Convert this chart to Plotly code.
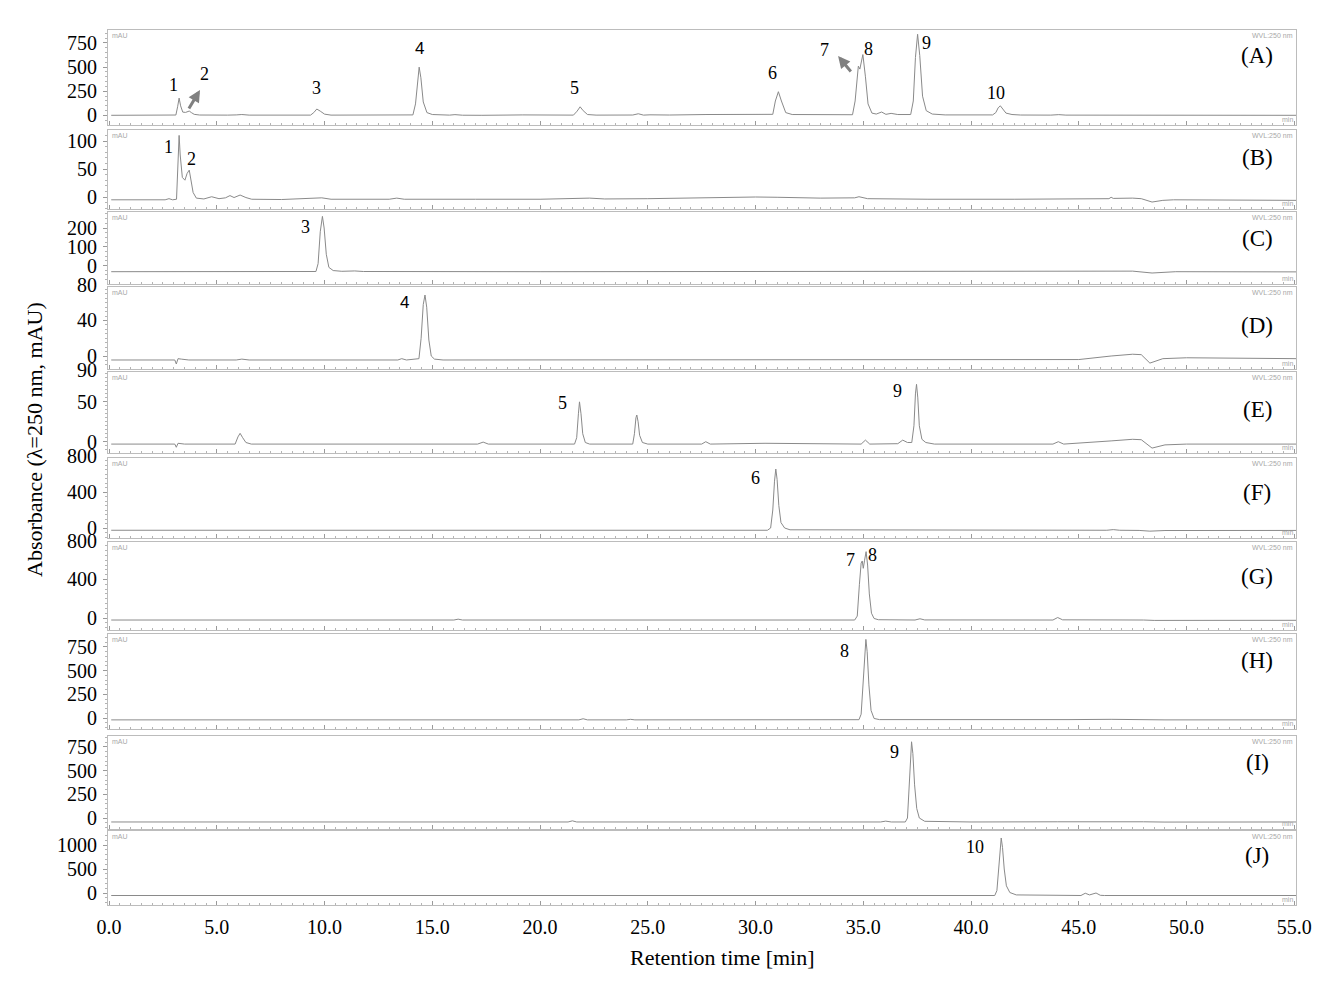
import plotly.graph_objects as go

# ------------------------- DATA -------------------------
panel_names = ["(A)", "(B)", "(C)", "(D)", "(E)", "(F)", "(G)", "(H)", "(I)", "(J)"]

time_A = [0.1, 2.9, 3.1, 3.18, 3.25, 3.32, 3.42, 3.55, 3.65, 3.72, 3.82, 3.95, 4.2, 4.6, 5.5, 5.9, 6.16, 6.5,
          8.0, 9.35, 9.5, 9.64, 9.8, 10.0, 10.3, 12.4, 12.65, 12.9, 14.1, 14.22, 14.32, 14.39, 14.47, 14.58,
          14.75, 15.0, 15.8, 16.05, 16.4, 16.83, 17.3, 19.2, 20.46, 21.55, 21.72, 21.86, 22.0, 22.2, 22.6,
          23.7, 24.3, 24.56, 24.8, 25.1, 26.0, 27.7, 30.0, 30.8, 30.92, 31.06, 31.2, 31.4, 31.7, 33.0, 34.5,
          34.62, 34.72, 34.77, 34.84, 34.98, 35.1, 35.22, 35.4, 35.6, 35.85, 36.05, 36.29, 36.6, 37.2, 37.32,
          37.42, 37.52, 37.62, 37.75, 37.92, 38.2, 38.8, 40.5, 40.76, 41.0, 41.15, 41.26, 41.36, 41.48, 41.62,
          41.9, 42.3, 43.7, 44.07, 44.4, 46.4, 46.76, 47.2, 50.0, 55.1]
abs_A = [2, 2, 5, 90, 180, 100, 35, 32, 42, 46, 30, 12, 5, 3, 4, 6, 10, 4,
         2, 4, 30, 67, 45, 14, 4, 3, 8, 3, 6, 120, 400, 500, 390, 140,
         30, 10, 4, 9, 3, 6, 2, 6, 5, 4, 45, 90, 50, 10, 4,
         7, 5, 18, 4, 7, 5, 10, 10, 12, 150, 246, 150, 30, 10, 8, 8,
         150, 430, 510, 480, 630, 400, 120, 25, 15, 36, 12, 22, 10, 10, 150,
         600, 840, 620, 200, 50, 15, 6, 5, 12, 6, 30, 80, 100, 65, 25,
         10, 5, 4, 9, 4, 3, 7, 2, 2, 2]

time_B = [0.1, 2.6, 2.78, 2.95, 3.13, 3.2, 3.25, 3.3, 3.4, 3.52, 3.62, 3.72, 3.8, 3.9, 4.05, 4.4, 4.76, 5.1,
          5.4, 5.61, 5.8, 6.08, 6.35, 6.62, 8.0, 9.87, 10.3, 13.0, 13.35, 13.7, 17.0, 20.0, 22.3, 23.0, 25.0,
          28.0, 30.0, 31.0, 33.0, 34.6, 34.8, 35.2, 38.0, 42.0, 45.0, 46.4, 46.5, 46.6, 47.5, 47.9, 48.4,
          48.9, 49.4, 52.0, 55.1]
abs_B = [-5, -5, -3, -5, -4, 70, 110, 75, 35, 30, 42, 48, 30, 8, -2, -3.5, 0.5, -3,
         -1.5, 2.5, -1, 3.5, -1, -4, -4.5, -1.5, -4, -4, -2, -4, -4, -4, -2, -3.5, -3,
         -1, 0, -0.5, -2, -1.5, 0.5, -3, -4, -4, -4, -3, -0.5, -2.5, -2, -3, -9,
         -6, -5, -5, -6]

time_C = [0.1, 3.05, 3.14, 3.22, 9.6, 9.7, 9.8, 9.9, 9.98, 10.08, 10.2, 10.4, 10.8, 11.4, 11.8, 20.0, 30.0,
          37.3, 37.6, 38.1, 38.4, 45.0, 46.5, 47.5, 48.4, 49.5, 55.1]
abs_C = [-33, -33, -36, -32, -32, 10, 180, 262, 200, 60, -10, -27, -31, -29, -32, -33, -33,
         -29, -32, -30, -33, -33, -30, -30, -40, -33, -34]

time_D = [0.1, 3.05, 3.12, 3.2, 3.35, 3.7, 5.9, 6.16, 6.5, 13.4, 13.58, 13.8, 14.38, 14.48, 14.58, 14.66,
          14.74, 14.84, 14.95, 15.1, 15.5, 20.0, 30.0, 40.0, 45.0, 46.5, 47.5, 47.9, 48.3, 48.9, 50.0, 55.1]
abs_D = [-4.5, -4.5, -9, -3, -3.5, -4.5, -4.5, -3.5, -4.5, -4.5, -3, -4.5, -3, 20, 58, 68.7,
         55, 18, 0, -3.5, -4.5, -4.5, -4, -4, -4, 0, 2, 1.5, -8, -3, -2, -3]

time_E = [0.1, 3.05, 3.12, 3.2, 3.5, 5.85, 5.98, 6.08, 6.2, 6.35, 6.6, 17.1, 17.36, 17.6, 21.6, 21.7, 21.78,
          21.83, 21.9, 21.98, 22.1, 22.3, 24.3, 24.38, 24.45, 24.49, 24.55, 24.62, 24.75, 25.0, 27.5, 27.69,
          27.9, 30.44, 34.9, 35.1, 35.3, 36.6, 36.83, 37.05, 37.25, 37.35, 37.42, 37.47, 37.53, 37.6, 37.72,
          37.9, 38.3, 43.8, 44.05, 44.3, 46.5, 47.5, 47.9, 48.4, 49.0, 50.0, 55.1]
abs_E = [-3, -3, -7, -2, -3, -3, 6, 10.5, 5, -1, -3, -3, -0.5, -3, -3, 5, 35,
         50, 35, 10, -1, -3, -3, 10, 30, 33.5, 25, 8, -1, -3, -3, 0,
         -3, -2, -3, 2, -3, -2.5, 2, -1, -1, 20, 60, 72, 55, 20, 3,
         -1, -3, -3, 0, -3, 1, 3, 2.5, -8, -4, -3, -3]

time_F = [0.1, 30.55, 30.7, 30.8, 30.88, 30.94, 31.0, 31.08, 31.18, 31.35, 31.6, 40.0, 46.3, 46.6, 46.9,
          47.8, 48.3, 49.0, 55.1]
abs_F = [-25, -25, 0, 200, 520, 655, 540, 250, 60, 0, -20, -25, -25, -18, -25,
         -27, -35, -28, -27]

time_G = [0.1, 15.0, 15.2, 15.4, 16.0, 16.2, 16.4, 34.6, 34.72, 34.82, 34.9, 34.95, 35.0, 35.06, 35.13,
          35.2, 35.28, 35.38, 35.5, 35.7, 37.4, 37.63, 37.85, 43.8, 44.02, 44.25, 46.0, 47.0, 48.0, 48.5, 55.1]
abs_G = [-21, -21, -18, -21, -21, -12, -21, -21, 20, 350, 570, 592, 516, 600, 689,
         550, 250, 50, -5, -18, -21, -8, -20, -21, 5, -19, -17, -16, -21, -25, -24]

time_H = [0.1, 5.8, 6.1, 6.4, 13.6, 13.9, 14.2, 16.0, 16.2, 16.4, 19.4, 19.6, 19.8, 21.8, 22.0, 22.2, 24.0,
          24.2, 24.4, 33.8, 34.0, 34.8, 34.9, 35.0, 35.07, 35.12, 35.18, 35.26, 35.36, 35.5, 35.75, 40.0,
          44.5, 46.5, 48.0, 49.0, 55.1]
abs_H = [-20, -20, -12, -20, -20, -15, -20, -20, -14, -20, -20, -14, -20, -20, -8, -20, -20,
         -14, -20, -20, -15, -18, 40, 400, 720, 830, 700, 350, 80, -5, -17, -19,
         -17, -14, -17, -20, -20]

time_I = [0.1, 21.3, 21.5, 21.7, 35.8, 36.04, 36.3, 36.95, 37.05, 37.12, 37.18, 37.24, 37.3, 37.38, 37.48,
          37.6, 37.85, 40.0, 44.0, 46.0, 48.0, 49.0, 55.1]
abs_I = [-42, -42, -30, -42, -42, -33, -42, -42, 0, 300, 650, 805, 680, 350, 100,
         0, -35, -42, -40, -37, -40, -43, -42]

time_J = [0.1, 3.0, 3.2, 41.1, 41.2, 41.28, 41.34, 41.4, 41.46, 41.54, 41.64, 41.8, 42.1, 45.1, 45.3, 45.5,
          45.8, 46.0, 46.2, 48.0, 55.1]
abs_J = [-52, -52, -48, -52, 50, 500, 950, 1146, 950, 500, 150, 10, -40, -52, -5, -40,
         0, -48, -52, -52, -52]

# y tick labels of each panel (mAU)
yticks_A = [0, 250, 500, 750]
yticks_B = [0, 50, 100]
yticks_C = [0, 100, 200]
yticks_D = [0, 40, 80]
yticks_E = [0, 50, 90]
yticks_F = [0, 400, 800]
yticks_G = [0, 400, 800]
yticks_H = [0, 250, 500, 750]
yticks_I = [0, 250, 500, 750]
yticks_J = [0, 500, 1000]

# x tick labels (min)
xtick_vals = [0, 5, 10, 15, 20, 25, 30, 35, 40, 45, 50, 55]
xtick_text = ["0.0", "5.0", "10.0", "15.0", "20.0", "25.0", "30.0", "35.0", "40.0", "45.0", "50.0", "55.0"]

# peak labels: (text, retention time, mAU)
peaks_A = [("1", 2.97, 315), ("2", 4.41, 429), ("3", 9.61, 284), ("4", 14.39, 688), ("5", 21.62, 284),
           ("6", 30.77, 440), ("7", 33.18, 677), ("8", 35.22, 688), ("9", 37.91, 750), ("10", 41.16, 233)]
peaks_B = [("1", 2.74, 89), ("2", 3.81, 68)]
peaks_C = [("3", 9.1, 205)]
peaks_D = [("4", 13.69, 60)]
peaks_E = [("5", 21.02, 48.6), ("9", 36.61, 63.6)]
peaks_F = [("6", 30.02, 556)]
peaks_G = [("7", 34.39, 602), ("8", 35.45, 654)]
peaks_H = [("8", 34.11, 707)]
peaks_I = [("9", 36.47, 697)]
peaks_J = [("10", 40.19, 958)]

# ------------------------- LAYOUT CONSTANTS -------------------------
W, H = 1331, 981
M_L, M_R, M_T, M_B = 108, 35, 30, 76
PLOT_W = W - M_L - M_R
PLOT_H = H - M_T - M_B
frame_top_px = [30, 130, 212, 287, 372, 458, 542, 634, 736, 831]
frame_bot_px = [125, 209, 284, 369, 453, 538, 630, 729, 829, 905]
zero_px = [115.5, 197, 265.5, 356, 441.7, 528, 618, 718, 818, 893]
px_per_unit = [0.0967, 0.56, 0.1875, 0.8875, 0.797, 0.09, 0.0963, 0.0947, 0.0947, 0.048]
minor_step = [50, 10, 25, 5, 5, 50, 50, 50, 50, 100]
letter_px_x = 1257
letter_px_y = [56, 157, 238, 325, 409, 492, 576, 660, 762, 855]
X_RANGE = [-0.05, 55.08]

times = [time_A, time_B, time_C, time_D, time_E, time_F, time_G, time_H, time_I, time_J]
values = [abs_A, abs_B, abs_C, abs_D, abs_E, abs_F, abs_G, abs_H, abs_I, abs_J]
yticks = [yticks_A, yticks_B, yticks_C, yticks_D, yticks_E, yticks_F, yticks_G, yticks_H, yticks_I, yticks_J]
peaks = [peaks_A, peaks_B, peaks_C, peaks_D, peaks_E, peaks_F, peaks_G, peaks_H, peaks_I, peaks_J]

SERIF = "Liberation Serif, Times New Roman, serif"
SANS = "Liberation Sans, Arial, sans-serif"
FRAME = "#bcbcbc"
TRACE = "#8a8a8a"
TINY = "#a8a8a8"

fig = go.Figure()
layout = dict(width=W, height=H, margin=dict(l=M_L, r=M_R, t=M_T, b=M_B),
              plot_bgcolor="white", paper_bgcolor="white", showlegend=False)
annotations = []
n = len(times)


def to_paper(px):
    return (H - M_B - px) / PLOT_H


for i in range(n):
    sfx = "" if i == 0 else str(i + 1)
    xa, ya = "x" + sfx, "y" + sfx
    top, bot = frame_top_px[i], frame_bot_px[i]
    z, k = zero_px[i], px_per_unit[i]
    yrange = [(z - bot) / k, (z - top) / k]
    dom = [to_paper(bot), to_paper(top)]
    last = i == n - 1

    fig.add_trace(go.Scatter(x=times[i], y=values[i], mode="lines",
                             line=dict(color=TRACE, width=1), xaxis=xa, yaxis=ya,
                             hoverinfo="skip", showlegend=False))

    layout["xaxis" + sfx] = dict(
        domain=[0, 1], anchor=ya, range=X_RANGE, showgrid=False, zeroline=False,
        showline=True, mirror=True, linecolor=FRAME, linewidth=1,
        tickmode="array", tickvals=xtick_vals, ticktext=xtick_text,
        ticks="inside", ticklen=4, tickcolor="#9a9a9a",
        minor=dict(ticks="inside", dtick=0.5, tick0=0, ticklen=2, tickcolor="#b4b4b4"),
        showticklabels=last,
        tickfont=dict(family=SERIF, size=20, color="black"),
        ticklabelstandoff=4,
    )
    layout["yaxis" + sfx] = dict(
        domain=dom, anchor=xa, range=yrange,
        showgrid=False, zeroline=False, showline=True, mirror=True,
        linecolor=FRAME, linewidth=1,
        tickmode="array", tickvals=yticks[i], ticks="outside", ticklen=4,
        tickcolor="#9a9a9a", showticklabels=False,
        minor=dict(ticks="outside", dtick=minor_step[i], tick0=0, ticklen=2, tickcolor="#b4b4b4"),
    )

    # y tick labels: positioned through the axis scale (range -> domain), may sit just outside the frame
    for v in yticks[i]:
        frac = (v - yrange[0]) / (yrange[1] - yrange[0])
        ypaper = dom[0] + frac * (dom[1] - dom[0])
        annotations.append(dict(text=str(v), xref="paper", x=0, xshift=-9, xanchor="right",
                                yref="paper", y=ypaper, yanchor="middle", showarrow=False,
                                font=dict(family=SERIF, size=20, color="black")))
    # peak labels
    for txt, t, v in peaks[i]:
        fam = SANS if txt == "4" else SERIF
        size = 17 if txt == "4" else 18
        annotations.append(dict(text=txt, xref=xa, x=t, yref=ya, y=v, showarrow=False,
                                xanchor="center", yanchor="middle",
                                font=dict(family=fam, size=size, color="black")))
    # panel letter
    annotations.append(dict(text=panel_names[i], xref="paper", x=(letter_px_x - M_L) / PLOT_W,
                            yref="paper", y=to_paper(letter_px_y[i]), xanchor="center",
                            yanchor="middle", showarrow=False,
                            font=dict(family=SERIF, size=23, color="black")))
    # instrument tiny labels
    annotations.append(dict(text="mAU", xref=xa + " domain", x=0.002, yref=ya + " domain", y=1.0,
                            xanchor="left", yanchor="top", showarrow=False,
                            font=dict(family=SANS, size=7, color=TINY)))
    annotations.append(dict(text="WVL:250 nm", xref=xa + " domain", x=0.999, yref=ya + " domain", y=1.0,
                            xanchor="right", yanchor="top", showarrow=False,
                            font=dict(family=SANS, size=7, color=TINY)))
    annotations.append(dict(text="min", xref=xa + " domain", x=0.999, yref=ya + " domain", y=0.0,
                            xanchor="right", yanchor="bottom", showarrow=False,
                            font=dict(family=SANS, size=7, color=TINY)))

# grey arrows in panel A
annotations.append(dict(text="", xref="x", yref="y", x=4.22, y=264, ax=-12, ay=20,
                        showarrow=True, arrowhead=2, arrowsize=0.8, arrowwidth=3, arrowcolor="#808080"))
annotations.append(dict(text="", xref="x", yref="y", x=33.83, y=615, ax=14, ay=17,
                        showarrow=True, arrowhead=2, arrowsize=0.8, arrowwidth=3, arrowcolor="#808080"))

# axis titles
annotations.append(dict(text="Retention time [min]", xref="paper", x=(722 - M_L) / PLOT_W,
                        yref="paper", y=to_paper(957), xanchor="center", yanchor="middle",
                        showarrow=False, font=dict(family=SERIF, size=22, color="black")))
annotations.append(dict(text="Absorbance (\u03bb=250 nm, mAU)", xref="paper", x=(35 - M_L) / PLOT_W,
                        yref="paper", y=to_paper(440), xanchor="center", yanchor="middle", textangle=-90,
                        showarrow=False, font=dict(family=SERIF, size=22, color="black")))

layout["annotations"] = annotations
fig.update_layout(**layout)
fig.write_html("out.html", config={"displayModeBar": False},
               post_script="document.body.style.margin='0';document.body.style.overflow='hidden';")
